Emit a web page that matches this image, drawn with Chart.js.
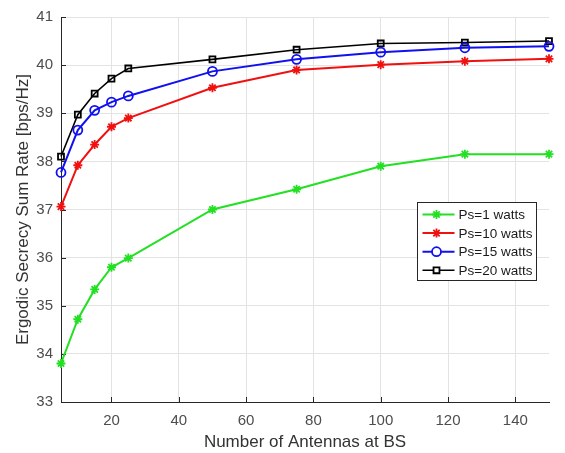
<!DOCTYPE html>
<html>
<head>
<meta charset="utf-8">
<script src="https://cdn.jsdelivr.net/npm/chart.js@4/dist/chart.umd.min.js"></script>
<style>
  html, body { margin: 0; padding: 0; background: #fff; }
  #wrap { width: 565px; height: 453px; }
</style>
</head>
<body>
<div id="wrap"><canvas id="rateChart" width="565" height="453"></canvas></div>
<script>
// number of antennas at the BS
const antennas = [5, 10, 15, 20, 25, 50, 75, 100, 125, 150];

// ergodic secrecy sum rate per source power
const ps1 = [33.80, 34.72, 35.34, 35.80, 35.99, 37.00, 37.42, 37.90, 38.15, 38.15];
const ps10 = [37.06, 37.92, 38.35, 38.72, 38.90, 39.53, 39.90, 40.01, 40.08, 40.13];
const ps15 = [37.77, 38.65, 39.06, 39.23, 39.36, 39.87, 40.12, 40.27, 40.36, 40.39];
const ps20 = [38.10, 38.97, 39.41, 39.72, 39.93, 40.12, 40.32, 40.45, 40.47, 40.50];

const seriesLabels = ['Ps=1 watts', 'Ps=10 watts', 'Ps=15 watts', 'Ps=20 watts'];

// tick labels
const xTicks = [20, 40, 60, 80, 100, 120, 140];
const yTicks = [33, 34, 35, 36, 37, 38, 39, 40, 41];

const FONT = '"Liberation Sans", Arial, Helvetica, sans-serif';
const AXIS_COLOR = '#262626';

function toPoints(values) {
  return antennas.map((a, i) => ({ x: a, y: values[i] }));
}

function makeSet(label, values, color, style, radius, width) {
  return {
    label: label,
    data: toPoints(values),
    borderColor: color,
    backgroundColor: color,
    borderWidth: width,
    pointStyle: style,
    pointRadius: radius,
    pointBorderWidth: 1.8,
    pointBorderColor: color,
    pointBackgroundColor: 'rgba(0,0,0,0)',
    pointHoverRadius: radius,
    tension: 0,
    clip: false
  };
}

// inward tick marks, like the original plot
const tickMarks = {
  id: 'tickMarks',
  beforeDatasetsDraw(chart) {
    const { ctx, chartArea, scales } = chart;
    ctx.save();
    ctx.strokeStyle = AXIS_COLOR;
    ctx.lineWidth = 1;
    ctx.beginPath();
    xTicks.forEach(t => {
      const px = Math.round(scales.x.getPixelForValue(t)) + 0.5;
      ctx.moveTo(px, chartArea.bottom);
      ctx.lineTo(px, chartArea.bottom - 5);
    });
    yTicks.forEach(t => {
      const py = Math.round(scales.y.getPixelForValue(t)) + 0.5;
      ctx.moveTo(chartArea.left, py);
      ctx.lineTo(chartArea.left + 5, py);
    });
    ctx.stroke();
    ctx.restore();
  }
};

// boxed legend inside the axes
const boxLegend = {
  id: 'boxLegend',
  afterDraw(chart) {
    const { ctx, chartArea } = chart;
    const boxW = 119, boxH = 78;
    const bx = chartArea.right - 131.5, by = chartArea.top + 185.5;
    ctx.save();
    ctx.fillStyle = '#fff';
    ctx.fillRect(bx, by, boxW, boxH);
    ctx.strokeStyle = AXIS_COLOR;
    ctx.lineWidth = 1;
    ctx.strokeRect(bx, by, boxW, boxH);
    ctx.textBaseline = 'middle';
    chart.data.datasets.forEach((ds, i) => {
      const cy = by + 12 + i * 18.6;
      ctx.strokeStyle = ds.borderColor;
      ctx.lineWidth = ds.borderWidth;
      ctx.beginPath();
      ctx.moveTo(bx + 5, cy);
      ctx.lineTo(bx + 37, cy);
      ctx.stroke();
      ctx.fillStyle = '#fff';
      ctx.lineWidth = ds.pointBorderWidth;
      Chart.helpers.drawPoint(ctx, {
        pointStyle: ds.pointStyle,
        radius: ds.pointRadius,
        borderWidth: ds.pointBorderWidth,
        rotation: 0
      }, bx + 19, cy);
      ctx.font = '13.5px ' + FONT;
      ctx.fillStyle = '#1a1a1a';
      ctx.fillText(ds.label, bx + 41, cy + 1);
    });
    ctx.restore();
  }
};

const ctx = document.getElementById('rateChart');

const chart = new Chart(ctx, {
  type: 'line',
  data: {
    datasets: [
      makeSet(seriesLabels[0], ps1, '#22e022', 'star', 4.5, 2),
      makeSet(seriesLabels[1], ps10, '#f01010', 'star', 4.5, 2),
      makeSet(seriesLabels[2], ps15, '#1010f0', 'circle', 4.5, 2),
      makeSet(seriesLabels[3], ps20, '#000000', 'rect', 4.2, 1.6)
    ]
  },
  options: {
    responsive: false,
    animation: false,
    layout: { padding: { top: 16, right: 16, left: 0, bottom: 0 } },
    scales: {
      x: {
        type: 'linear',
        min: 5,
        max: 150,
        afterBuildTicks(scale) {
          scale.ticks = xTicks.map(v => ({ value: v }));
        },
        afterFit(scale) { scale.height = 51; },
        grid: { color: '#e3e3e3', drawTicks: false },
        border: { color: AXIS_COLOR, width: 1 },
        ticks: {
          padding: 10,
          color: '#4d4d4d',
          font: { family: FONT, size: 15 },
          maxRotation: 0
        },
        title: {
          display: true,
          text: 'Number of Antennas at BS',
          color: '#333',
          padding: 0,
          font: { family: FONT, size: 17 }
        }
      },
      y: {
        type: 'linear',
        min: 33,
        max: 41,
        afterBuildTicks(scale) {
          scale.ticks = yTicks.map(v => ({ value: v }));
        },
        afterFit(scale) { scale.width = 61; },
        grid: { color: '#e3e3e3', drawTicks: false },
        border: { color: AXIS_COLOR, width: 1 },
        ticks: {
          padding: 8,
          color: '#4d4d4d',
          font: { family: FONT, size: 15 }
        },
        title: {
          display: true,
          text: 'Ergodic Secrecy Sum Rate [bps/Hz]',
          color: '#333',
          padding: 13,
          font: { family: FONT, size: 17 }
        }
      }
    },
    plugins: {
      legend: { display: false },
      tooltip: { enabled: false }
    }
  },
  plugins: [tickMarks, boxLegend]
});
</script>
</body>
</html>
